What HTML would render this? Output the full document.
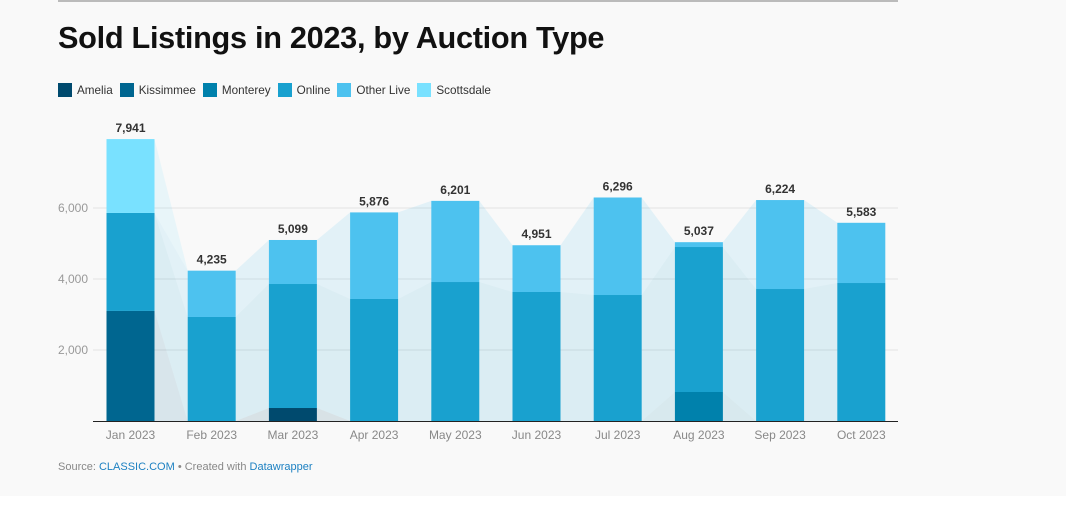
<!DOCTYPE html>
<html><head><meta charset="utf-8">
<style>
html,body{margin:0;padding:0;background:#fff;}
#wrap{position:absolute;left:0;top:0;width:1066px;height:496px;background:#f9f9f9;font-family:"Liberation Sans",Arial,sans-serif;}
#topline{position:absolute;left:58px;top:0;width:840px;height:2px;background:#bbbbbb;}
h1{position:absolute;left:58px;top:20px;margin:0;font-size:30.7px;font-weight:bold;color:#111;letter-spacing:-0.3px;}
#legend{position:absolute;left:58px;top:83px;font-size:11.7px;color:#333;display:flex;}
.li{display:flex;align-items:center;margin-right:7px;}
.sw{width:14px;height:14px;margin-right:5px;}
#src{position:absolute;left:58px;top:461px;font-size:11px;color:#888;}
#src span{color:#1d81c2;}
svg{position:absolute;left:0;top:0;}
</style></head><body>
<div id="wrap">
<div id="topline"></div>
<h1>Sold Listings in 2023, by Auction Type</h1>
<div id="legend"></div>
<svg id="chart" width="1066" height="496"></svg>
<div id="src">Source: <span>CLASSIC.COM</span> • Created with <span>Datawrapper</span></div>
</div>
<script>
const months=["Jan 2023","Feb 2023","Mar 2023","Apr 2023","May 2023","Jun 2023","Jul 2023","Aug 2023","Sep 2023","Oct 2023"];
const seriesNames=["Amelia","Kissimmee","Monterey","Online","Other Live","Scottsdale"];
const amelia=[0,0,366,0,0,0,0,0,0,0];
const kissimmee=[3100,0,0,0,0,0,0,0,0,0];
const monterey=[0,0,0,0,0,0,0,817,0,0];
const online=[2760,2930,3493,3437,3915,3634,3549,4084,3718,3887];
const otherLive=[0,1305,1240,2439,2286,1317,2747,136,2506,1696];
const scottsdale=[2081,0,0,0,0,0,0,0,0,0];
const totals=["7,941","4,235","5,099","5,876","6,201","4,951","6,296","5,037","6,224","5,583"];
const yTicks=[2000,4000,6000];
const yTickLabels=["2,000","4,000","6,000"];

const colors=["#004a6e","#006690","#0081ac","#19a1cf","#4dc2ef","#79e1ff"];
const series=[amelia,kissimmee,monterey,online,otherLive,scottsdale];
const NS="http://www.w3.org/2000/svg";
const svg=document.getElementById('chart');
const x0=93,x1=898,base=421,scale=71/2000,barW=48;
const y=v=>base-v*scale;
const step=81.2, firstC=130.5;
const xc=i=>firstC+i*step;
function mk(t,a){const e=document.createElementNS(NS,t);for(const k in a)e.setAttribute(k,a[k]);svg.appendChild(e);return e;}
const lg=document.getElementById('legend');
seriesNames.forEach((n,i)=>{const d=document.createElement('div');d.className='li';


d.innerHTML='<div class="sw" style="background:'+colors[i]+'"></div>'+n;lg.appendChild(d);});
yTicks.forEach((t,i)=>{
const g=mk('line',{x1:x0,x2:x1,y1:y(t),y2:y(t),stroke:'#e2e2e2','stroke-width':1});


const tx=mk('text',{x:88,y:y(t)+4,'text-anchor':'end','font-size':12,fill:'#999','font-family':'Liberation Sans, Arial, sans-serif'});
tx.textContent=yTickLabels[i];


});
const stacks=months.map((m,i)=>{let acc=0;return series.map(s=>{const a=acc;acc+=s[i];return [a,acc];});});
for(let i=0;i<months.length-1;i++){
series.forEach((s,k)=>{
const a=stacks[i][k],b=stacks[i+1][k];
if(a[1]-a[0]===0&&b[1]-b[0]===0)return;
const xa=xc(i)+barW/2,xb=xc(i+1)-barW/2;
const p=mk('polygon',{points:`${xa},${y(a[0])} ${xa},${y(a[1])} ${xb},${y(b[1])} ${xb},${y(b[0])}`,fill:colors[k],'fill-opacity':0.13});


});}
months.forEach((m,i)=>{
series.forEach((s,k)=>{
if(s[i]<=0)return;
const r=mk('rect',{x:xc(i)-barW/2,y:y(stacks[i][k][1]),width:barW,height:s[i]*scale,fill:colors[k]});


});
const top=stacks[i][5][1];
const vl=mk('text',{x:xc(i),y:y(top)-7,'text-anchor':'middle','font-size':12,'font-weight':'bold',fill:'#333','font-family':'Liberation Sans, Arial, sans-serif'});
vl.textContent=totals[i];


const xl=mk('text',{x:xc(i),y:439,'text-anchor':'middle','font-size':12,fill:'#888','font-family':'Liberation Sans, Arial, sans-serif'});
xl.textContent=m;


});
const ax=mk('line',{x1:x0,x2:x1,y1:base+0.5,y2:base+0.5,stroke:'#222','stroke-width':1});


</script>
</body></html>
